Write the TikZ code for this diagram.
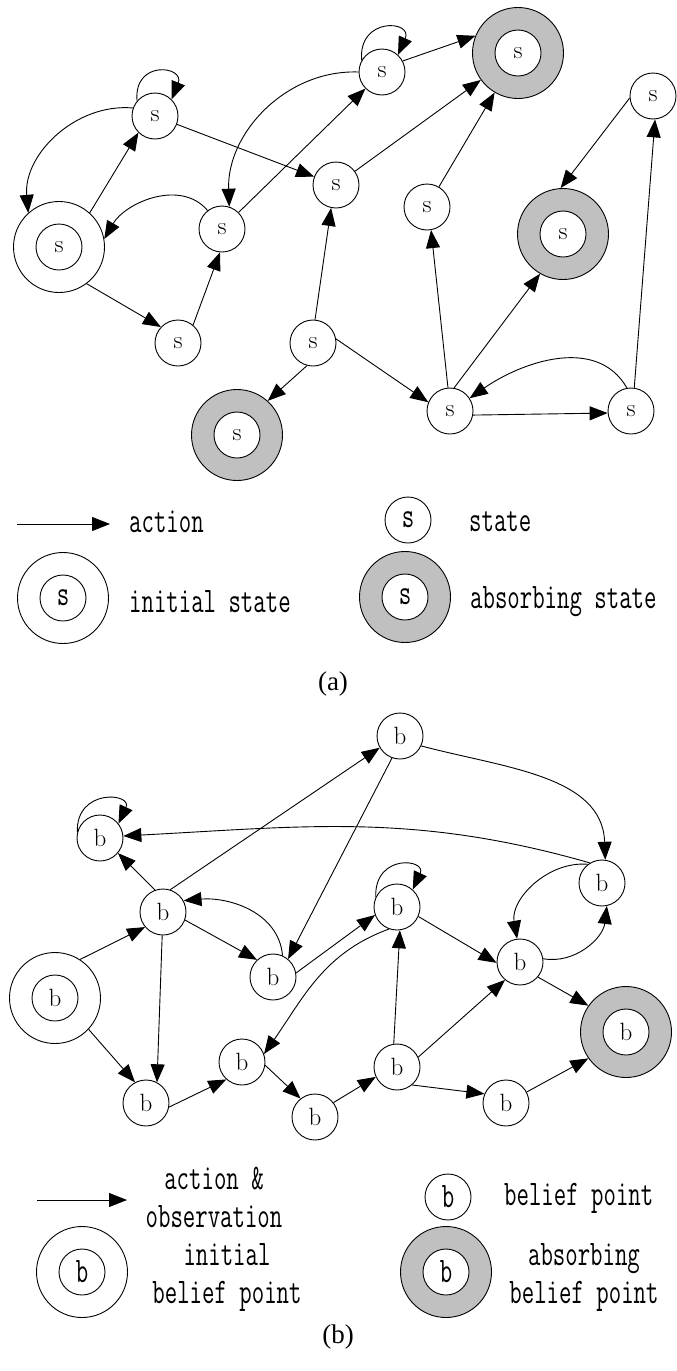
\documentclass[tikz,border=0pt]{standalone}
\usepackage{fontspec}
\usetikzlibrary{arrows.meta}
\newfontfamily\lgdfont{Latin Modern Mono}[FakeStretch=0.67]
\newfontfamily\capfont{Liberation Serif}
\definecolor{ringgray}{RGB}{192,192,192}

\tikzset{
  arr/.style={-{Triangle[length=18pt,width=14pt]}, line width=0.9pt},
  st/.style={circle, draw, line width=0.9pt, minimum size=46pt, inner sep=0pt,
             fill=white, font=\fontsize{25}{25}\selectfont},
  ring/.style={circle, draw, line width=0.9pt, minimum size=91pt, inner sep=0pt},
  absring/.style={ring, fill=ringgray},
  initring/.style={ring, fill=white},
  lst/.style={st, font=\lgdfont\fontsize{36}{36}\selectfont},
  lgd/.style={font=\lgdfont\fontsize{36}{38}\selectfont, align=center, inner sep=0pt},
  captext/.style={font=\capfont\fontsize{27}{27}\selectfont, inner sep=0pt}
}

\begin{document}
\begin{tikzpicture}[x=1pt,y=-1pt]
\useasboundingbox (0,0) rectangle (677,1371);

% ---------------- (a) state graph ----------------
\node[initring] (I0) at (59,247) {};
\node[st] (I0s) at (I0) {s};
\node[absring] (S1) at (518,53) {};
\node[st] (S1s) at (S1) {s};
\node[absring] (S2) at (563,234) {};
\node[st] (S2s) at (S2) {s};
\node[absring] (S3) at (237,435) {};
\node[st] (S3s) at (S3) {s};

\node[st] (A1) at (155,116) {s};
\node[st] (A2) at (222,229) {s};
\node[st] (A3) at (336,185) {s};
\node[st] (A4) at (382,72) {s};
\node[st] (A5) at (427,207) {s};
\node[st] (A6) at (653,96) {s};
\node[st] (A7) at (178,343) {s};
\node[st] (A8) at (313,343) {s};
\node[st] (A9) at (450,411) {s};
\node[st] (A10) at (631,411) {s};

\draw[arr] (A1.140) .. controls +(95:42pt) and +(68:36pt) .. (A1.45);
\draw[arr] (A4.150) .. controls +(95:44pt) and +(66:38pt) .. (A4.47);
\draw[arr] (A1.160) to[out=175,in=95] (I0.132);
\draw[arr] (I0.48) -- (A1.225);
\draw[arr] (A1) -- (A3);
\draw[arr] (A2.128) to[out=130,in=60] (I0.10);
\draw[arr] (A4.180) to[out=178,in=92] (A2.72);
\draw[arr] (A2.45) -- (A4.225);
\draw[arr] (A4.28) -- (S1.158);
\draw[arr] (A3) -- (S1);
\draw[arr] (A5) -- (S1);
\draw[arr] (A6.185) -- (S2.93);
\draw[arr] (I0.-53) -- (A7.137);
\draw[arr] (A7.50) -- (A2.265);
\draw[arr] (A8.85) -- (A3.258);
\draw[arr] (A8.255) -- (S3.48);
\draw[arr] (A8.10) -- (A9.158);
\draw[arr] (A9.95) -- (A5.-80);
\draw[arr] (A9.80) -- (S2.-120);
\draw[arr] (A9.-10) -- (A10.185);
\draw[arr] (A10.100) to[out=120,in=35] (A9.33);
\draw[arr] (A10.82) -- (A6.-85);

% ---------------- (a) legend ----------------
\coordinate (la1) at (17,524);
\coordinate (la2) at (110,524);
\draw[arr] (la1) -- (la2);
\node[lgd, anchor=west] (lta) at (129,522) {action};
\node[lst] (lsa) at (408,520) {s};
\node[lgd, anchor=west] (ltb) at (469,522) {state};
\node[initring] (lia) at (63,598) {};
\node[lst] (lias) at (lia) {s};
\node[lgd, anchor=west] (ltc) at (129,602) {initial state};
\node[absring] (lba) at (405,597) {};
\node[lst] (lbas) at (lba) {s};
\node[lgd, anchor=west] (ltd) at (470,602) {absorbing state};
\node[captext] (capa) at (333,684) {(a)};

% ---------------- (b) belief graph ----------------
\node[initring] (bI) at (55,998) {};
\node[st] (bIs) at (bI) {b};
\node[absring] (bA) at (626,1032) {};
\node[st] (bAs) at (bA) {b};

\node[st] (b1) at (100,838) {b};
\node[st] (b2) at (163,912) {b};
\node[st] (b3) at (400,736) {b};
\node[st] (b4) at (273,977) {b};
\node[st] (b5) at (397,907) {b};
\node[st] (b6) at (602,883) {b};
\node[st] (b7) at (520,962) {b};
\node[st] (b8) at (146,1103) {b};
\node[st] (b9) at (242,1062) {b};
\node[st] (b10) at (315,1117) {b};
\node[st] (b11) at (397,1067) {b};
\node[st] (b12) at (506,1103) {b};

\draw[arr] (b1.165) .. controls +(92:44pt) and +(65:34pt) .. (b1.38);
\draw[arr] (b5.155) .. controls +(92:44pt) and +(65:34pt) .. (b5.48);
\draw[arr] (b6.121) to[out=164,in=3] (b1.5);
\draw[arr] (b2.110) -- (b1.-40);
\draw[arr] (b2.72) -- (b3.210);
\draw[arr] (bI.57) -- (b2.220);
\draw[arr] (b2.-20) -- (b4.133);
\draw[arr] (b4.66) to[out=95,in=5] (b2.29);
\draw[arr] (b3.-110) -- (b4.50);
\draw[arr] (b2.-92) -- (b8.62);
\draw[arr] (bI.-43) -- (b8.118);
\draw[arr] (b4.10) -- (b5.200);
\draw[arr] (b5.250) to[out=200,in=55] (b9.20);
\draw[arr] (b3.-25) to[out=-15,in=92] (b6.82);
\draw[arr] (b6.127) to[out=175,in=100] (b7.97);
\draw[arr] (b7.8) to[out=-10,in=-97] (b6.-78);
\draw[arr] (b5.-24) -- (b7.182);
\draw[arr] (b11.25) -- (b7.230);
\draw[arr] (b11.98) -- (b5.-83);
\draw[arr] (b7.-40) -- (bA.145);
\draw[arr] (b8.-10) -- (b9.228);
\draw[arr] (b9.-8) -- (b10.128);
\draw[arr] (b10.38) -- (b11.205);
\draw[arr] (b11.-50) -- (b12.157);
\draw[arr] (b12.28) -- (bA.215);

% ---------------- (b) legend ----------------
\coordinate (lb1) at (37,1200);
\coordinate (lb2) at (127,1200);
\draw[arr] (lb1) -- (lb2);
\node[lgd] (lte) at (214,1197) {action \&\\observation};
\node[lst] (lsb) at (448,1197) {b};
\node[lgd, anchor=west] (ltf) at (504,1198) {belief point};
\node[initring] (lib) at (82,1272) {};
\node[lst] (libs) at (lib) {b};
\node[lgd] (ltg) at (227,1277) {initial\\belief point};
\node[absring] (lbb) at (446,1272) {};
\node[lst] (lbbs) at (lbb) {b};
\node[lgd] (lth) at (584,1277) {absorbing\\belief point};
\node[captext] (capb) at (338,1337) {(b)};
\end{tikzpicture}
\end{document}
